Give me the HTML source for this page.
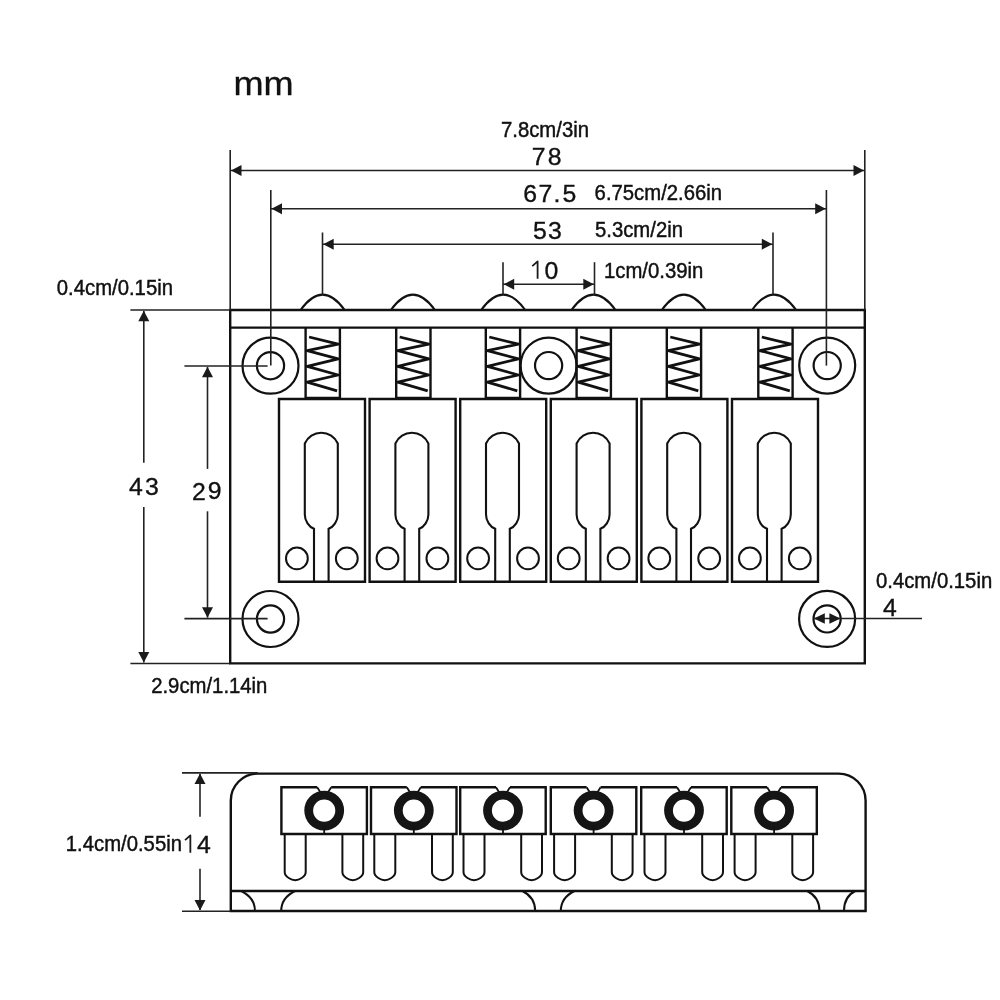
<!DOCTYPE html>
<html><head><meta charset="utf-8"><style>
html,body{margin:0;padding:0;background:#fff;width:1000px;height:1000px;overflow:hidden}
svg{display:block;will-change:transform}
.lab{font-family:"Liberation Sans",sans-serif;fill:#111;stroke:#111;stroke-width:0.45px}
.num{font-family:"Liberation Sans",sans-serif;fill:#111;stroke:#111;stroke-width:0.35px}
</style></head><body>
<svg width="1000" height="1000" viewBox="0 0 1000 1000">
<rect width="1000" height="1000" fill="#fff"/>
<g stroke-linecap="butt">
<path d="M230.2,310 H864.8 V663.4 H230.2 Z" stroke="#111" stroke-width="2.4" fill="none" />
<line x1="230.2" y1="327.6" x2="864.8" y2="327.6" stroke="#111" stroke-width="2.4"/>
<line x1="230.2" y1="150" x2="230.2" y2="310" stroke="#222" stroke-width="1.6"/>
<line x1="864.8" y1="150" x2="864.8" y2="310" stroke="#222" stroke-width="1.6"/>
<path d="M300.6,310 Q322.6,279.2 344.6,310" stroke="#111" stroke-width="2.1" fill="none" />
<path d="M390.9,310 Q412.9,279.2 434.9,310" stroke="#111" stroke-width="2.1" fill="none" />
<path d="M481.2,310 Q503.2,279.2 525.2,310" stroke="#111" stroke-width="2.1" fill="none" />
<path d="M571.5,310 Q593.5,279.2 615.5,310" stroke="#111" stroke-width="2.1" fill="none" />
<path d="M661.8,310 Q683.8,279.2 705.8,310" stroke="#111" stroke-width="2.1" fill="none" />
<path d="M752.1,310 Q774.1,279.2 796.1,310" stroke="#111" stroke-width="2.1" fill="none" />
<line x1="305.6" y1="327.6" x2="305.6" y2="398" stroke="#111" stroke-width="2.4"/>
<line x1="339.9" y1="327.6" x2="339.9" y2="398" stroke="#111" stroke-width="2.4"/>
<line x1="305.6" y1="398" x2="339.9" y2="398" stroke="#111" stroke-width="2.4"/>
<path d="M309.1,337 L338.2,344.2 L307.2,350.6 L338.2,358.9 L307.2,366.4 L338.2,375 L307.2,382.1 L337.1,390.8" stroke="#111" stroke-width="2.8" fill="none" stroke-linejoin="round"/>
<line x1="396.2" y1="327.6" x2="396.2" y2="398" stroke="#111" stroke-width="2.4"/>
<line x1="430.5" y1="327.6" x2="430.5" y2="398" stroke="#111" stroke-width="2.4"/>
<line x1="396.2" y1="398" x2="430.5" y2="398" stroke="#111" stroke-width="2.4"/>
<path d="M399.7,337 L428.8,344.2 L397.8,350.6 L428.8,358.9 L397.8,366.4 L428.8,375 L397.8,382.1 L427.7,390.8" stroke="#111" stroke-width="2.8" fill="none" stroke-linejoin="round"/>
<line x1="485.8" y1="327.6" x2="485.8" y2="398" stroke="#111" stroke-width="2.4"/>
<line x1="520.1" y1="327.6" x2="520.1" y2="398" stroke="#111" stroke-width="2.4"/>
<line x1="485.8" y1="398" x2="520.1" y2="398" stroke="#111" stroke-width="2.4"/>
<path d="M489.3,337 L518.4,344.2 L487.4,350.6 L518.4,358.9 L487.4,366.4 L518.4,375 L487.4,382.1 L517.3,390.8" stroke="#111" stroke-width="2.8" fill="none" stroke-linejoin="round"/>
<line x1="576.6" y1="327.6" x2="576.6" y2="398" stroke="#111" stroke-width="2.4"/>
<line x1="610.9" y1="327.6" x2="610.9" y2="398" stroke="#111" stroke-width="2.4"/>
<line x1="576.6" y1="398" x2="610.9" y2="398" stroke="#111" stroke-width="2.4"/>
<path d="M580.1,337 L609.2,344.2 L578.2,350.6 L609.2,358.9 L578.2,366.4 L609.2,375 L578.2,382.1 L608.1,390.8" stroke="#111" stroke-width="2.8" fill="none" stroke-linejoin="round"/>
<line x1="666.8" y1="327.6" x2="666.8" y2="398" stroke="#111" stroke-width="2.4"/>
<line x1="701.1" y1="327.6" x2="701.1" y2="398" stroke="#111" stroke-width="2.4"/>
<line x1="666.8" y1="398" x2="701.1" y2="398" stroke="#111" stroke-width="2.4"/>
<path d="M670.3,337 L699.4,344.2 L668.4,350.6 L699.4,358.9 L668.4,366.4 L699.4,375 L668.4,382.1 L698.3,390.8" stroke="#111" stroke-width="2.8" fill="none" stroke-linejoin="round"/>
<line x1="758.3" y1="327.6" x2="758.3" y2="398" stroke="#111" stroke-width="2.4"/>
<line x1="792.6" y1="327.6" x2="792.6" y2="398" stroke="#111" stroke-width="2.4"/>
<line x1="758.3" y1="398" x2="792.6" y2="398" stroke="#111" stroke-width="2.4"/>
<path d="M761.8,337 L790.9,344.2 L759.9,350.6 L790.9,358.9 L759.9,366.4 L790.9,375 L759.9,382.1 L789.8,390.8" stroke="#111" stroke-width="2.8" fill="none" stroke-linejoin="round"/>
<circle cx="270.5" cy="365.7" r="28" stroke="#111" stroke-width="2.2" fill="none"/>
<circle cx="270.5" cy="365.7" r="13.6" stroke="#111" stroke-width="2.2" fill="none"/>
<circle cx="548.6" cy="365.6" r="28" stroke="#111" stroke-width="2.2" fill="none"/>
<circle cx="548.6" cy="365.6" r="13.6" stroke="#111" stroke-width="2.2" fill="none"/>
<circle cx="827.2" cy="365.6" r="28" stroke="#111" stroke-width="2.2" fill="none"/>
<circle cx="827.2" cy="365.6" r="13.6" stroke="#111" stroke-width="2.2" fill="none"/>
<circle cx="270.5" cy="619" r="28" stroke="#111" stroke-width="2.2" fill="none"/>
<circle cx="270.5" cy="619" r="13.6" stroke="#111" stroke-width="2.2" fill="none"/>
<circle cx="827.1" cy="618.9" r="28" stroke="#111" stroke-width="2.2" fill="none"/>
<circle cx="827.1" cy="618.9" r="13.6" stroke="#111" stroke-width="2.2" fill="none"/>
<path d="M279,399 H365 V581.8 H279 Z" stroke="#111" stroke-width="2.4" fill="none" />
<path d="M314,581.8 V528.8 C309,527 304.8,521 304.8,514.4 V443.5 A18,18 0 0 1 337.8,443.5 V514.4 C337.8,521 333.6,527 328.6,528.8 V581.8" stroke="#111" stroke-width="2.1" fill="none" />
<circle cx="296.9" cy="558.4" r="10.9" stroke="#111" stroke-width="2" fill="none"/>
<circle cx="346.8" cy="558.4" r="10.9" stroke="#111" stroke-width="2" fill="none"/>
<path d="M369.6,399 H455.6 V581.8 H369.6 Z" stroke="#111" stroke-width="2.4" fill="none" />
<path d="M404.6,581.8 V528.8 C399.6,527 395.4,521 395.4,514.4 V443.5 A18,18 0 0 1 428.4,443.5 V514.4 C428.4,521 424.2,527 419.2,528.8 V581.8" stroke="#111" stroke-width="2.1" fill="none" />
<circle cx="387.5" cy="558.4" r="10.9" stroke="#111" stroke-width="2" fill="none"/>
<circle cx="437.4" cy="558.4" r="10.9" stroke="#111" stroke-width="2" fill="none"/>
<path d="M460.2,399 H546.2 V581.8 H460.2 Z" stroke="#111" stroke-width="2.4" fill="none" />
<path d="M495.2,581.8 V528.8 C490.2,527 486,521 486,514.4 V443.5 A18,18 0 0 1 519,443.5 V514.4 C519,521 514.8,527 509.8,528.8 V581.8" stroke="#111" stroke-width="2.1" fill="none" />
<circle cx="478.1" cy="558.4" r="10.9" stroke="#111" stroke-width="2" fill="none"/>
<circle cx="528" cy="558.4" r="10.9" stroke="#111" stroke-width="2" fill="none"/>
<path d="M550.8,399 H636.8 V581.8 H550.8 Z" stroke="#111" stroke-width="2.4" fill="none" />
<path d="M585.8,581.8 V528.8 C580.8,527 576.6,521 576.6,514.4 V443.5 A18,18 0 0 1 609.6,443.5 V514.4 C609.6,521 605.4,527 600.4,528.8 V581.8" stroke="#111" stroke-width="2.1" fill="none" />
<circle cx="568.7" cy="558.4" r="10.9" stroke="#111" stroke-width="2" fill="none"/>
<circle cx="618.6" cy="558.4" r="10.9" stroke="#111" stroke-width="2" fill="none"/>
<path d="M641.4,399 H727.4 V581.8 H641.4 Z" stroke="#111" stroke-width="2.4" fill="none" />
<path d="M676.4,581.8 V528.8 C671.4,527 667.2,521 667.2,514.4 V443.5 A18,18 0 0 1 700.2,443.5 V514.4 C700.2,521 696,527 691,528.8 V581.8" stroke="#111" stroke-width="2.1" fill="none" />
<circle cx="659.3" cy="558.4" r="10.9" stroke="#111" stroke-width="2" fill="none"/>
<circle cx="709.2" cy="558.4" r="10.9" stroke="#111" stroke-width="2" fill="none"/>
<path d="M732,399 H818 V581.8 H732 Z" stroke="#111" stroke-width="2.4" fill="none" />
<path d="M767,581.8 V528.8 C762,527 757.8,521 757.8,514.4 V443.5 A18,18 0 0 1 790.8,443.5 V514.4 C790.8,521 786.6,527 781.6,528.8 V581.8" stroke="#111" stroke-width="2.1" fill="none" />
<circle cx="749.9" cy="558.4" r="10.9" stroke="#111" stroke-width="2" fill="none"/>
<circle cx="799.8" cy="558.4" r="10.9" stroke="#111" stroke-width="2" fill="none"/>
<line x1="270.8" y1="190" x2="270.8" y2="365.6" stroke="#222" stroke-width="1.6"/>
<line x1="826.4" y1="190" x2="826.4" y2="365.6" stroke="#222" stroke-width="1.6"/>
<line x1="322.5" y1="232.5" x2="322.5" y2="294.6" stroke="#222" stroke-width="1.6"/>
<line x1="773" y1="232.5" x2="773" y2="294.6" stroke="#222" stroke-width="1.6"/>
<line x1="503" y1="262.2" x2="503" y2="294.6" stroke="#222" stroke-width="1.6"/>
<line x1="594.5" y1="262.2" x2="594.5" y2="294.6" stroke="#222" stroke-width="1.6"/>
<line x1="230.2" y1="170.5" x2="864.8" y2="170.5" stroke="#222" stroke-width="1.6"/>
<polygon points="231,170.5 241.5,165 241.5,176" fill="#1a1a1a"/>
<polygon points="864,170.5 853.5,165 853.5,176" fill="#1a1a1a"/>
<line x1="270.8" y1="208.7" x2="826.4" y2="208.7" stroke="#222" stroke-width="1.6"/>
<polygon points="271.5,208.7 282,203.2 282,214.2" fill="#1a1a1a"/>
<polygon points="825.7,208.7 815.2,203.2 815.2,214.2" fill="#1a1a1a"/>
<line x1="322.5" y1="244.2" x2="773" y2="244.2" stroke="#222" stroke-width="1.6"/>
<polygon points="323.2,244.2 333.7,238.7 333.7,249.7" fill="#1a1a1a"/>
<polygon points="772.3,244.2 761.8,238.7 761.8,249.7" fill="#1a1a1a"/>
<line x1="503" y1="284.3" x2="594.5" y2="284.3" stroke="#222" stroke-width="1.6"/>
<polygon points="503.7,284.3 514.2,278.8 514.2,289.8" fill="#1a1a1a"/>
<polygon points="593.8,284.3 583.3,278.8 583.3,289.8" fill="#1a1a1a"/>
<line x1="130.4" y1="310" x2="230.2" y2="310" stroke="#222" stroke-width="1.6"/>
<line x1="130.4" y1="663.5" x2="230.2" y2="663.5" stroke="#222" stroke-width="1.6"/>
<line x1="184.4" y1="366" x2="267.6" y2="366" stroke="#222" stroke-width="1.6"/>
<line x1="184.4" y1="618.6" x2="267.6" y2="618.6" stroke="#222" stroke-width="1.6"/>
<line x1="143.8" y1="311" x2="143.8" y2="462.8" stroke="#222" stroke-width="1.6"/>
<line x1="143.8" y1="507" x2="143.8" y2="662.5" stroke="#222" stroke-width="1.6"/>
<polygon points="143.8,310.8 138.3,321.3 149.3,321.3" fill="#1a1a1a"/>
<polygon points="143.8,662.6 138.3,652.1 149.3,652.1" fill="#1a1a1a"/>
<line x1="207.5" y1="367" x2="207.5" y2="468.9" stroke="#222" stroke-width="1.6"/>
<line x1="207.5" y1="511.3" x2="207.5" y2="617.6" stroke="#222" stroke-width="1.6"/>
<polygon points="207.5,366.8 202,377.3 213,377.3" fill="#1a1a1a"/>
<polygon points="207.5,617.8 202,607.3 213,607.3" fill="#1a1a1a"/>
<line x1="813.6" y1="618.5" x2="922" y2="618.5" stroke="#222" stroke-width="1.6"/>
<polygon points="813.8,618.5 824.8,613.3 824.8,623.7" fill="#1a1a1a"/>
<polygon points="840.4,618.5 829.4,613.3 829.4,623.7" fill="#1a1a1a"/>
<path d="M230.8,911 V800.6 A27,27 0 0 1 257.8,773.6 H838.6 A27,27 0 0 1 865.6,800.6 V911 Z" stroke="#111" stroke-width="2.4" fill="none" />
<line x1="230.8" y1="891" x2="865.6" y2="891" stroke="#111" stroke-width="2.4"/>
<line x1="182" y1="772.9" x2="257.8" y2="772.9" stroke="#222" stroke-width="1.6"/>
<line x1="182" y1="911.2" x2="230.8" y2="911.2" stroke="#222" stroke-width="1.6"/>
<line x1="200" y1="774" x2="200" y2="816.8" stroke="#222" stroke-width="1.6"/>
<line x1="200" y1="868.8" x2="200" y2="910" stroke="#222" stroke-width="1.6"/>
<polygon points="200,773.6 194.5,784.1 205.5,784.1" fill="#1a1a1a"/>
<polygon points="200,910.6 194.5,900.1 205.5,900.1" fill="#1a1a1a"/>
<path d="M241.2,891 C249.2,895 255,902 255,911" stroke="#111" stroke-width="2" fill="none" />
<path d="M522.4,891 C530.4,895 535.2,902 535.2,911" stroke="#111" stroke-width="2" fill="none" />
<path d="M807.2,891 C815.2,895 819.5,902 819.5,911" stroke="#111" stroke-width="2" fill="none" />
<path d="M295,891 C287,895 281.2,902 281.2,911" stroke="#111" stroke-width="2" fill="none" />
<path d="M574.4,891 C566.4,895 560.8,902 560.8,911" stroke="#111" stroke-width="2" fill="none" />
<path d="M855.2,891 C847.2,895 844,902 844,911" stroke="#111" stroke-width="2" fill="none" />
<path d="M317.2,787.2 H281.4 V834 H366.9 V787.2 H331.2" stroke="#111" stroke-width="2.4" fill="none" />
<path d="M317.2,787.2 L320.2,792" stroke="#111" stroke-width="1.8" fill="none" />
<path d="M331.2,787.2 L328.2,792" stroke="#111" stroke-width="1.8" fill="none" />
<circle cx="324.2" cy="810.6" r="15.5" stroke="#151515" stroke-width="8.8" fill="none"/>
<line x1="324.2" y1="826" x2="324.2" y2="834" stroke="#111" stroke-width="1.8"/>
<path d="M284.7,834 V872 Q284.7,875.5 288.7,878 Q295.2,882.5 301.7,878 Q305.7,875.5 305.7,872 V834" stroke="#111" stroke-width="2" fill="none" />
<path d="M342.4,834 V872 Q342.4,875.5 346.4,878 Q352.8,882.5 359.2,878 Q363.2,875.5 363.2,872 V834" stroke="#111" stroke-width="2" fill="none" />
<path d="M406.8,787.2 H371 V834 H456.5 V787.2 H420.8" stroke="#111" stroke-width="2.4" fill="none" />
<path d="M406.8,787.2 L409.8,792" stroke="#111" stroke-width="1.8" fill="none" />
<path d="M420.8,787.2 L417.8,792" stroke="#111" stroke-width="1.8" fill="none" />
<circle cx="413.8" cy="810.6" r="15.5" stroke="#151515" stroke-width="8.8" fill="none"/>
<line x1="413.8" y1="826" x2="413.8" y2="834" stroke="#111" stroke-width="1.8"/>
<path d="M374.3,834 V872 Q374.3,875.5 378.3,878 Q384.8,882.5 391.3,878 Q395.3,875.5 395.3,872 V834" stroke="#111" stroke-width="2" fill="none" />
<path d="M432,834 V872 Q432,875.5 436,878 Q442.4,882.5 448.8,878 Q452.8,875.5 452.8,872 V834" stroke="#111" stroke-width="2" fill="none" />
<path d="M496,787.2 H460.2 V834 H545.7 V787.2 H510" stroke="#111" stroke-width="2.4" fill="none" />
<path d="M496,787.2 L499,792" stroke="#111" stroke-width="1.8" fill="none" />
<path d="M510,787.2 L507,792" stroke="#111" stroke-width="1.8" fill="none" />
<circle cx="503" cy="810.6" r="15.5" stroke="#151515" stroke-width="8.8" fill="none"/>
<line x1="503" y1="826" x2="503" y2="834" stroke="#111" stroke-width="1.8"/>
<path d="M463.5,834 V872 Q463.5,875.5 467.5,878 Q474,882.5 480.5,878 Q484.5,875.5 484.5,872 V834" stroke="#111" stroke-width="2" fill="none" />
<path d="M521.2,834 V872 Q521.2,875.5 525.2,878 Q531.6,882.5 538,878 Q542,875.5 542,872 V834" stroke="#111" stroke-width="2" fill="none" />
<path d="M586.6,787.2 H550.8 V834 H636.3 V787.2 H600.6" stroke="#111" stroke-width="2.4" fill="none" />
<path d="M586.6,787.2 L589.6,792" stroke="#111" stroke-width="1.8" fill="none" />
<path d="M600.6,787.2 L597.6,792" stroke="#111" stroke-width="1.8" fill="none" />
<circle cx="593.6" cy="810.6" r="15.5" stroke="#151515" stroke-width="8.8" fill="none"/>
<line x1="593.6" y1="826" x2="593.6" y2="834" stroke="#111" stroke-width="1.8"/>
<path d="M554.1,834 V872 Q554.1,875.5 558.1,878 Q564.6,882.5 571.1,878 Q575.1,875.5 575.1,872 V834" stroke="#111" stroke-width="2" fill="none" />
<path d="M611.8,834 V872 Q611.8,875.5 615.8,878 Q622.2,882.5 628.6,878 Q632.6,875.5 632.6,872 V834" stroke="#111" stroke-width="2" fill="none" />
<path d="M677,787.2 H641.2 V834 H726.7 V787.2 H691" stroke="#111" stroke-width="2.4" fill="none" />
<path d="M677,787.2 L680,792" stroke="#111" stroke-width="1.8" fill="none" />
<path d="M691,787.2 L688,792" stroke="#111" stroke-width="1.8" fill="none" />
<circle cx="684" cy="810.6" r="15.5" stroke="#151515" stroke-width="8.8" fill="none"/>
<line x1="684" y1="826" x2="684" y2="834" stroke="#111" stroke-width="1.8"/>
<path d="M644.5,834 V872 Q644.5,875.5 648.5,878 Q655,882.5 661.5,878 Q665.5,875.5 665.5,872 V834" stroke="#111" stroke-width="2" fill="none" />
<path d="M702.2,834 V872 Q702.2,875.5 706.2,878 Q712.6,882.5 719,878 Q723,875.5 723,872 V834" stroke="#111" stroke-width="2" fill="none" />
<path d="M767.1,787.2 H731.3 V834 H816.8 V787.2 H781.1" stroke="#111" stroke-width="2.4" fill="none" />
<path d="M767.1,787.2 L770.1,792" stroke="#111" stroke-width="1.8" fill="none" />
<path d="M781.1,787.2 L778.1,792" stroke="#111" stroke-width="1.8" fill="none" />
<circle cx="774.1" cy="810.6" r="15.5" stroke="#151515" stroke-width="8.8" fill="none"/>
<line x1="774.1" y1="826" x2="774.1" y2="834" stroke="#111" stroke-width="1.8"/>
<path d="M734.6,834 V872 Q734.6,875.5 738.6,878 Q745.1,882.5 751.6,878 Q755.6,875.5 755.6,872 V834" stroke="#111" stroke-width="2" fill="none" />
<path d="M792.3,834 V872 Q792.3,875.5 796.3,878 Q802.7,882.5 809.1,878 Q813.1,875.5 813.1,872 V834" stroke="#111" stroke-width="2" fill="none" />
<path d="M537.6,278.75 V261.3 L532.3,266.2" stroke="#1a1a1a" stroke-width="1.8" fill="none" stroke-linejoin="round"/>
<path d="M190.35,852.75 V835.3 L185.05,840.2" stroke="#1a1a1a" stroke-width="1.8" fill="none" stroke-linejoin="round"/>
</g>
<text transform="translate(233.4,94.5) scale(1.11,1)" class="lab" font-size="32.5" style="stroke-width:0.3px">mm</text>
<text transform="translate(501,137.3) scale(0.953,1)" class="lab" font-size="21.3">7.8cm/3in</text>
<text transform="translate(594.6,199.6) scale(0.953,1)" class="lab" font-size="21.3">6.75cm/2.66in</text>
<text transform="translate(595,237) scale(0.953,1)" class="lab" font-size="21.3">5.3cm/2in</text>
<text transform="translate(604,278) scale(0.953,1)" class="lab" font-size="21.3">1cm/0.39in</text>
<text transform="translate(56.8,295) scale(0.953,1)" class="lab" font-size="21.3">0.4cm/0.15in</text>
<text transform="translate(151.2,693) scale(0.953,1)" class="lab" font-size="21.3">2.9cm/1.14in</text>
<text transform="translate(876,588.2) scale(0.953,1)" class="lab" font-size="21.3">0.4cm/0.15in</text>
<text transform="translate(65.8,850.6) scale(0.953,1)" class="lab" font-size="21.3">1.4cm/0.55in</text>
<text x="531.73" y="164.75" class="num" font-size="24.8">7</text>
<text x="547.67" y="164.51" class="num" font-size="24.8">8</text>
<text x="523.24" y="201.96" class="num" font-size="24.8">6</text>
<text x="538.53" y="202.2" class="num" font-size="24.8">7</text>
<text x="553.44" y="202.2" class="num" font-size="24.8">.</text>
<text x="562.51" y="201.96" class="num" font-size="24.8">5</text>
<text x="533.01" y="238.76" class="num" font-size="24.8">5</text>
<text x="548.06" y="238.76" class="num" font-size="24.8">3</text>
<text x="544.53" y="278.51" class="num" font-size="24.8">0</text>
<text x="128.93" y="495.25" class="num" font-size="24.8">4</text>
<text x="145.06" y="495.01" class="num" font-size="24.8">3</text>
<text x="192" y="499.5" class="num" font-size="24.8">2</text>
<text x="207.84" y="499.26" class="num" font-size="24.8">9</text>
<text x="882.93" y="615.75" class="num" font-size="24.8">4</text>
<text x="196.93" y="852.75" class="num" font-size="24.8">4</text>
</svg>
</body></html>
